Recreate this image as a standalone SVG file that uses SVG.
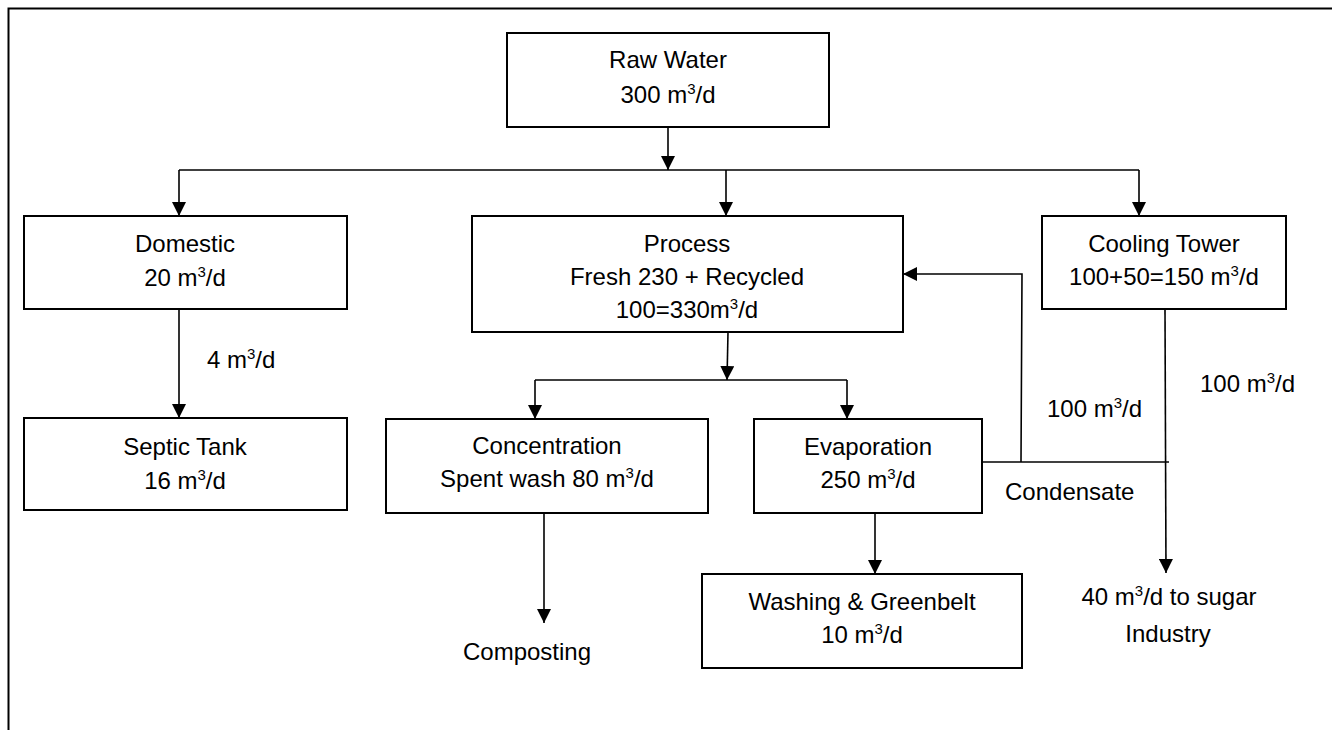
<svg xmlns="http://www.w3.org/2000/svg" width="1332" height="730" viewBox="0 0 1332 730">
<style>
  .box { fill: #ffffff; stroke: #000000; stroke-width: 2; }
  .ln { fill: none; stroke: #000000; stroke-width: 1.6; }
  .frame { fill: none; stroke: #000000; stroke-width: 2; }
  text { font-family: "Liberation Sans", Arial, sans-serif; font-size: 24px; fill: #000000; text-anchor: middle; }
  .sup { font-size: 15px; }
  .lft { text-anchor: start; }
</style>
<defs>
  <marker id="arr" markerUnits="userSpaceOnUse" markerWidth="14" markerHeight="14" viewBox="0 0 14 14" refX="14" refY="7" orient="auto">
    <path d="M0,0 L14,7 L0,14 Z" fill="#000000"/>
  </marker>
</defs>
<rect x="0" y="0" width="1332" height="730" fill="#ffffff"/>
<path class="frame" d="M8.5,730 L8.5,8.5 L1332,8.5"/>

<g id="connectors">
  <path class="ln" d="M668,127 L668,170" marker-end="url(#arr)"/>
  <path class="ln" d="M179,170 L1139,170"/>
  <path class="ln" d="M179,170 L179,216" marker-end="url(#arr)"/>
  <path class="ln" d="M726,170 L726,216" marker-end="url(#arr)"/>
  <path class="ln" d="M1139,170 L1139,216" marker-end="url(#arr)"/>
  <path class="ln" d="M179,309 L179,418" marker-end="url(#arr)"/>
  <path class="ln" d="M728,332 L727,380" marker-end="url(#arr)"/>
  <path class="ln" d="M535,380 L847,380"/>
  <path class="ln" d="M535,380 L535,419" marker-end="url(#arr)"/>
  <path class="ln" d="M847,380 L847,419" marker-end="url(#arr)"/>
  <path class="ln" d="M544,513 L544,623" marker-end="url(#arr)"/>
  <path class="ln" d="M875,513 L875,574" marker-end="url(#arr)"/>
  <path class="ln" d="M982,462 L1169,462"/>
  <path class="ln" d="M1021,462 L1022,274 L903,274" marker-end="url(#arr)"/>
  <path class="ln" d="M1165,309 L1166,573" marker-end="url(#arr)"/>
</g>

<g id="raw-water">
  <rect class="box" x="507" y="33" width="322" height="94"/>
  <text x="668" y="68">Raw Water</text>
  <text x="668" y="103">300 m<tspan class="sup" dy="-9">3</tspan><tspan dy="9">/d</tspan></text>
</g>
<g id="domestic">
  <rect class="box" x="24" y="216" width="323" height="93"/>
  <text x="185" y="252">Domestic</text>
  <text x="185" y="286">20 m<tspan class="sup" dy="-9">3</tspan><tspan dy="9">/d</tspan></text>
</g>
<g id="process">
  <rect class="box" x="472" y="216" width="431" height="116"/>
  <text x="687" y="252">Process</text>
  <text x="687" y="285">Fresh 230 + Recycled</text>
  <text x="687" y="318">100=330m<tspan class="sup" dy="-9">3</tspan><tspan dy="9">/d</tspan></text>
</g>
<g id="cooling-tower">
  <rect class="box" x="1042" y="216" width="244" height="93"/>
  <text x="1164" y="252">Cooling Tower</text>
  <text x="1164" y="285">100+50=150 m<tspan class="sup" dy="-9">3</tspan><tspan dy="9">/d</tspan></text>
</g>
<g id="septic-tank">
  <rect class="box" x="24" y="418" width="323" height="92"/>
  <text x="185" y="455">Septic Tank</text>
  <text x="185" y="489">16 m<tspan class="sup" dy="-9">3</tspan><tspan dy="9">/d</tspan></text>
</g>
<g id="concentration">
  <rect class="box" x="386" y="419" width="322" height="94"/>
  <text x="547" y="454">Concentration</text>
  <text x="547" y="487">Spent wash 80 m<tspan class="sup" dy="-9">3</tspan><tspan dy="9">/d</tspan></text>
</g>
<g id="evaporation">
  <rect class="box" x="754" y="419" width="228" height="94"/>
  <text x="868" y="455">Evaporation</text>
  <text x="868" y="488">250 m<tspan class="sup" dy="-9">3</tspan><tspan dy="9">/d</tspan></text>
</g>
<g id="washing-greenbelt">
  <rect class="box" x="702" y="574" width="320" height="94"/>
  <text x="862" y="610">Washing &amp; Greenbelt</text>
  <text x="862" y="643">10 m<tspan class="sup" dy="-9">3</tspan><tspan dy="9">/d</tspan></text>
</g>
<g id="composting">
  <text x="527" y="660">Composting</text>
</g>
<g id="sugar-industry">
  <text x="1169" y="605">40 m<tspan class="sup" dy="-9">3</tspan><tspan dy="9">/d to sugar</tspan></text>
  <text x="1168" y="642">Industry</text>
</g>
<g id="labels">
  <text class="lft" x="207" y="368">4 m<tspan class="sup" dy="-9">3</tspan><tspan dy="9">/d</tspan></text>
  <text class="lft" x="1047" y="417">100 m<tspan class="sup" dy="-9">3</tspan><tspan dy="9">/d</tspan></text>
  <text class="lft" x="1200" y="392">100 m<tspan class="sup" dy="-9">3</tspan><tspan dy="9">/d</tspan></text>
  <text class="lft" x="1005" y="500">Condensate</text>
</g>
</svg>
